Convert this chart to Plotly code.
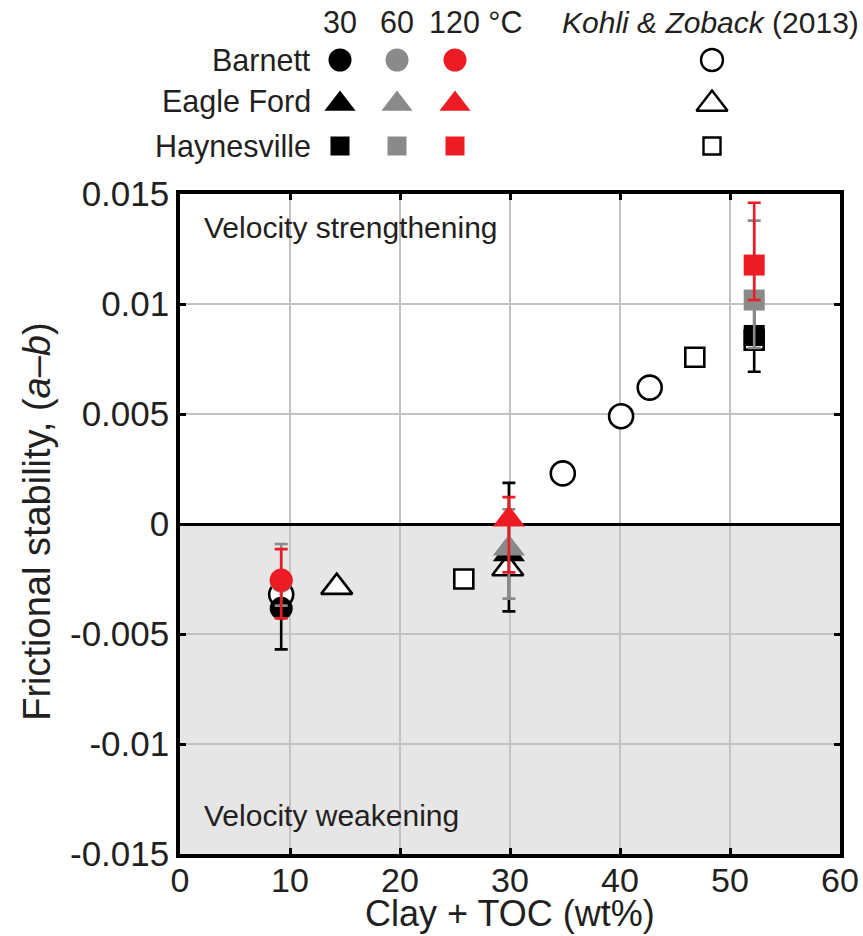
import plotly.graph_objects as go

# ---------------- data ----------------
formations = ["Barnett", "Eagle Ford", "Haynesville"]
symbols = ["circle", "triangle-up", "square"]
clay_toc = [9.2, 29.9, 52.2]

temps = ["30", "60", "120 °C"]
temp_colors = ["#000000", "#8a8a8a", "#ed1c24"]

ab_30 = [-0.00383, -0.00138, 0.00857]
err_plus_30 = [0.00160, 0.00325, 0.00160]
err_minus_30 = [0.00187, 0.00259, 0.00165]

ab_60 = [-0.00260, -0.00111, 0.01018]
err_plus_60 = [0.00169, 0.00178, 0.00361]
err_minus_60 = [0.00111, 0.00228, 0.00218]

ab_120 = [-0.00255, 0.00021, 0.01177]
err_plus_120 = [0.00141, 0.00101, 0.00283]
err_minus_120 = [0.00174, 0.00241, 0.00159]

# Kohli & Zoback (2013)
kz_circle_x = [9.2, 34.8, 40.1, 42.7]
kz_circle_y = [-0.0032, 0.0023, 0.0049, 0.0062]
kz_triangle_x = [14.25, 29.8]
kz_triangle_y = [-0.00287, -0.00202]
kz_square_x = [25.8, 46.8, 52.2]
kz_square_y = [-0.0025, 0.00758, 0.00836]

x_ticks = [0, 10, 20, 30, 40, 50, 60]
y_ticks = [-0.015, -0.01, -0.005, 0, 0.005, 0.01, 0.015]
y_ticktext = ["-0.015", "-0.01", "-0.005", "0", "0.005", "0.01", "0.015"]

# ---------------- styling ----------------
FONT = "Liberation Sans, Arial, Helvetica, sans-serif"
TXT = "#231f20"
TICK_SIZE = 35
XTICK_SIZE = 34
TITLE_SIZE = 38
XTITLE_SIZE = 36
LEG_SIZE = 30.5
marker_sizes = {"circle": 23, "triangle-up": 28, "square": 21}
legend_sizes = {"circle": 23, "triangle-up": 27, "square": 19}
kz_legend_sizes = {"circle": 22, "triangle-up": 27, "square": 17}

fig = go.Figure()

# Kohli & Zoback open markers (drawn first, underneath)
for xs, ys, sym, sz in [(kz_circle_x, kz_circle_y, "circle", 24),
                        (kz_triangle_x, kz_triangle_y, "triangle-up", 27),
                        (kz_square_x, kz_square_y, "square", 19)]:
    fig.add_trace(go.Scatter(
        x=xs, y=ys, mode="markers", showlegend=False,
        marker=dict(symbol=sym, size=sz, color="white",
                    line=dict(color="black", width=2.6)),
        xaxis="x", yaxis="y"))

series = [(ab_30, err_plus_30, err_minus_30),
          (ab_60, err_plus_60, err_minus_60),
          (ab_120, err_plus_120, err_minus_120)]

for (vals, ep, em), col in zip(series, temp_colors):
    for i, (fm, sym) in enumerate(zip(formations, symbols)):
        fig.add_trace(go.Scatter(
            x=[clay_toc[i]], y=[vals[i]], mode="markers", showlegend=False,
            name=fm,
            marker=dict(symbol=sym, size=marker_sizes[sym], color=col,
                        line=dict(width=0)),
            error_y=dict(type="data", symmetric=False,
                         array=[ep[i]], arrayminus=[em[i]],
                         color=col, thickness=2.6, width=6.5),
            xaxis="x", yaxis="y"))

# ---------------- legend (drawn on its own axes) ----------------
col_x = [340, 397, 455]
kz_col_x = 712
row_y = [60, 104, 146]
label_right = 313
header_y = 22

for j, col in enumerate(temp_colors):
    for i, sym in enumerate(symbols):
        fig.add_trace(go.Scatter(
            x=[col_x[j]], y=[row_y[i]], mode="markers", showlegend=False,
            marker=dict(symbol=sym, size=legend_sizes[sym], color=col,
                        line=dict(width=0)),
            xaxis="x2", yaxis="y2", hoverinfo="skip"))
for i, sym in enumerate(symbols):
    fig.add_trace(go.Scatter(
        x=[kz_col_x], y=[row_y[i]], mode="markers", showlegend=False,
        marker=dict(symbol=sym, size=kz_legend_sizes[sym], color="white",
                    line=dict(color="black", width=2.4)),
        xaxis="x2", yaxis="y2", hoverinfo="skip"))

annotations = []
for i, fm in enumerate(formations):
    annotations.append(dict(x=label_right, y=row_y[i] if i != 1 else row_y[i] - 3,
                            xref="x2", yref="y2", text=fm, showarrow=False,
                            xanchor="right", yanchor="middle",
                            font=dict(family=FONT, size=LEG_SIZE, color=TXT)))
annotations.append(dict(x=col_x[0], y=header_y, xref="x2", yref="y2", text=temps[0],
                        showarrow=False, xanchor="center", yanchor="middle",
                        font=dict(family=FONT, size=LEG_SIZE, color=TXT)))
annotations.append(dict(x=col_x[1], y=header_y, xref="x2", yref="y2", text=temps[1],
                        showarrow=False, xanchor="center", yanchor="middle",
                        font=dict(family=FONT, size=LEG_SIZE, color=TXT)))
annotations.append(dict(x=col_x[2] - 28, y=header_y, xref="x2", yref="y2", text=temps[2],
                        showarrow=False, xanchor="left", yanchor="middle",
                        font=dict(family=FONT, size=LEG_SIZE, color=TXT)))
annotations.append(dict(x=(861 - 180) / 660, y=header_y, xref="paper", yref="y2",
                        text="<i>Kohli &amp; Zoback</i> (2013)",
                        showarrow=False, xanchor="right", yanchor="middle",
                        font=dict(family=FONT, size=LEG_SIZE - 0.5, color=TXT)))

annotations.append(dict(x=2.0, y=0.01350, xref="x", yref="y",
                        text="Velocity strengthening", showarrow=False,
                        xanchor="left", yanchor="middle",
                        font=dict(family=FONT, size=LEG_SIZE - 0.5, color=TXT)))
annotations.append(dict(x=2.0, y=-0.01323, xref="x", yref="y",
                        text="Velocity weakening", showarrow=False,
                        xanchor="left", yanchor="middle",
                        font=dict(family=FONT, size=LEG_SIZE - 0.5, color=TXT)))

H = 936
mt, mb = 5, 82
plot_h = H - mt - mb
main_top = (854 - 194) / plot_h
leg_bottom = (854 - 172) / plot_h

# axis titles (placed as text so they sit where the original has them)
annotations.append(dict(x=(37 - 180) / 660, y=0.0001, xref="paper", yref="y",
                        text="Frictional stability, (<i>a</i>–<i>b</i>)",
                        textangle=-90, showarrow=False,
                        xanchor="center", yanchor="middle",
                        font=dict(family=FONT, size=TITLE_SIZE, color=TXT)))
annotations.append(dict(x=0.5, y=(854 - 913) / plot_h, xref="paper", yref="paper",
                        text="Clay + TOC (wt%)", showarrow=False,
                        xanchor="center", yanchor="middle",
                        font=dict(family=FONT, size=XTITLE_SIZE, color=TXT)))

# shaded velocity-weakening region
shapes = [dict(type="rect", xref="x", yref="y", x0=0, x1=60, y0=-0.015, y1=0,
               fillcolor="#e6e6e6", line=dict(width=0), layer="below")]

fig.update_layout(
    width=863, height=H,
    margin=dict(l=180, r=23, t=mt, b=mb, pad=0, autoexpand=False),
    paper_bgcolor="white", plot_bgcolor="rgba(0,0,0,0)",
    font=dict(family=FONT, color=TXT),
    showlegend=False,
    annotations=annotations,
    shapes=shapes,
    xaxis=dict(domain=[0, 1], range=[0, 60], tickvals=x_ticks,
               ticktext=[str(v) for v in x_ticks],
               showgrid=True, gridcolor="#c2c2c2", gridwidth=1.5,
               zeroline=False, showline=True, linecolor="black", linewidth=3.5,
               mirror="ticks", ticks="inside", ticklen=6, tickwidth=2.5,
               tickcolor="black", ticklabelstandoff=-7,
               tickfont=dict(family=FONT, size=XTICK_SIZE, color=TXT)),
    yaxis=dict(domain=[0, main_top], range=[-0.015, 0.015], tickvals=y_ticks,
               ticktext=y_ticktext,
               showgrid=True, gridcolor="#c2c2c2", gridwidth=1.5,
               zeroline=True, zerolinecolor="black", zerolinewidth=3,
               showline=True, linecolor="black", linewidth=3.5,
               mirror="ticks", ticks="inside", ticklen=6, tickwidth=2.5,
               tickcolor="black",
               tickfont=dict(family=FONT, size=TICK_SIZE, color=TXT)),
    xaxis2=dict(domain=[0, 1], range=[180, 840], visible=False, fixedrange=True),
    yaxis2=dict(domain=[leg_bottom, 1], range=[172, 5], visible=False,
                fixedrange=True),
)

fig.write_html("out.html")
